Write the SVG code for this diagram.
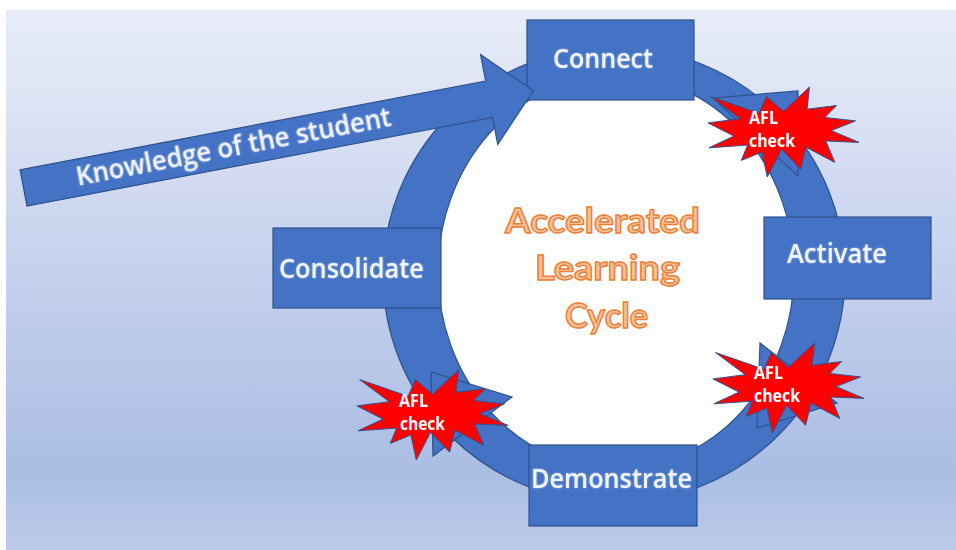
<svg xmlns="http://www.w3.org/2000/svg" xmlns:xlink="http://www.w3.org/1999/xlink" width="956" height="550" viewBox="0 0 956 550">
<style>
.box{fill:#4472C4;stroke:#2F528F;stroke-width:1.2}
.lbl{font-family:"Open Sans",Lato,"Liberation Sans",sans-serif;font-weight:600;font-size:27px;fill:#F0F4FB}
.burst{fill:#FF0000;stroke:#2F528F;stroke-width:1}
.afl{font-family:"Open Sans",Lato,"Liberation Sans",sans-serif;font-weight:bold;font-size:17px;fill:#FFFFFF}
.title{font-family:Lato,"Open Sans","Liberation Sans",sans-serif;font-weight:bold;font-size:35px;fill:#F6C09A;stroke:#ED7D31;stroke-width:1.4}
.ring{fill:#4472C4;stroke:#2F528F;stroke-width:1.2}
</style>
<defs>
<linearGradient id="bg" x1="0" y1="0" x2="0" y2="1">
<stop offset="0" stop-color="#E9EDF8"/>
<stop offset="0.5" stop-color="#C4D0ED"/>
<stop offset="0.86" stop-color="#AABDE3"/>
<stop offset="1" stop-color="#BCCBEA"/>
</linearGradient>
<path id="seal" d="M75.5,24.2 L101.5,0 L99,22.2 L128.5,18.6 L116.8,30.5 L147.5,33.9 L123.1,43.6 L151,55.4 L117.7,53.9 L126.8,75.4 L98,60.2 L92.6,82.2 L73.6,62.2 L59.3,90 L53.9,65.1 L33.3,73.4 L39.6,58.1 L0.9,60.8 L26,49.1 L0,35.9 L32.3,31.7 L2.6,9.6 L51.1,26.3 L58.4,9.6 Z"/>
<filter id="glow" x="-10%" y="-30%" width="120%" height="160%">
<feDropShadow dx="0" dy="0" stdDeviation="1.2" flood-color="#9FB8E6" flood-opacity="0.9"/>
</filter>
</defs>
<rect x="0" y="0" width="956" height="550" fill="#FFFFFF"/>
<rect x="6" y="10" width="950" height="540" fill="url(#bg)"/>

<g id="connectors">
<ellipse class="ring" cx="614" cy="275" rx="231" ry="228"/>
<ellipse cx="616" cy="272" rx="178" ry="197" fill="#FFFFFF" stroke="#2F528F" stroke-width="1.2"/>
<polygon class="ring" points="713,98 798,91 798,176"/>
<polygon class="ring" points="760,343 757,428 837,403"/>
<polygon class="ring" points="431,372 433,456 512,397"/>
</g>

<g id="title">
<text class="title" x="505" y="233" textLength="195" lengthAdjust="spacingAndGlyphs">Accelerated</text>
<text class="title" x="535" y="280" textLength="145" lengthAdjust="spacingAndGlyphs">Learning</text>
<text class="title" x="565" y="328" textLength="83" lengthAdjust="spacingAndGlyphs">Cycle</text>
</g>

<g id="connect">
<rect class="box" x="527" y="20" width="167" height="80"/>
<text class="lbl" filter="url(#glow)" x="553" y="68" textLength="100" lengthAdjust="spacingAndGlyphs">Connect</text>
</g>
<g id="activate">
<rect class="box" x="764" y="217" width="167" height="82"/>
<text class="lbl" filter="url(#glow)" x="787" y="263" textLength="100" lengthAdjust="spacingAndGlyphs">Activate</text>
</g>
<g id="consolidate">
<rect class="box" x="273" y="228" width="168" height="80"/>
<text class="lbl" filter="url(#glow)" x="279" y="278" textLength="145" lengthAdjust="spacingAndGlyphs">Consolidate</text>
</g>
<g id="demonstrate">
<rect class="box" x="529" y="445" width="168" height="81"/>
<text class="lbl" filter="url(#glow)" x="531" y="488" textLength="161" lengthAdjust="spacingAndGlyphs">Demonstrate</text>
</g>

<g id="knowledge" transform="translate(23.5,188) rotate(-10.8)">
<polygon class="box" points="0,-18.5 474,-18.5 474,-45.5 519,0 474,46 474,18.5 0,18.5"/>
<text class="lbl" filter="url(#glow)" x="214" y="8" text-anchor="middle" font-size="25" textLength="320" lengthAdjust="spacingAndGlyphs">Knowledge of the student</text>
</g>

<g id="afl1">
<use xlink:href="#seal" href="#seal" class="burst" x="708" y="87"/>
<text class="afl" x="749" y="124" textLength="29" lengthAdjust="spacingAndGlyphs">AFL</text>
<text class="afl" x="749" y="147" textLength="46" lengthAdjust="spacingAndGlyphs">check</text>
</g>
<g id="afl2">
<use xlink:href="#seal" href="#seal" class="burst" x="713" y="343"/>
<text class="afl" x="754" y="379" textLength="29" lengthAdjust="spacingAndGlyphs">AFL</text>
<text class="afl" x="754" y="402" textLength="46" lengthAdjust="spacingAndGlyphs">check</text>
</g>
<g id="afl3">
<use xlink:href="#seal" href="#seal" class="burst" x="357" y="370"/>
<text class="afl" x="399" y="407" textLength="29" lengthAdjust="spacingAndGlyphs">AFL</text>
<text class="afl" x="400" y="430" textLength="45" lengthAdjust="spacingAndGlyphs">check</text>
</g>
</svg>
